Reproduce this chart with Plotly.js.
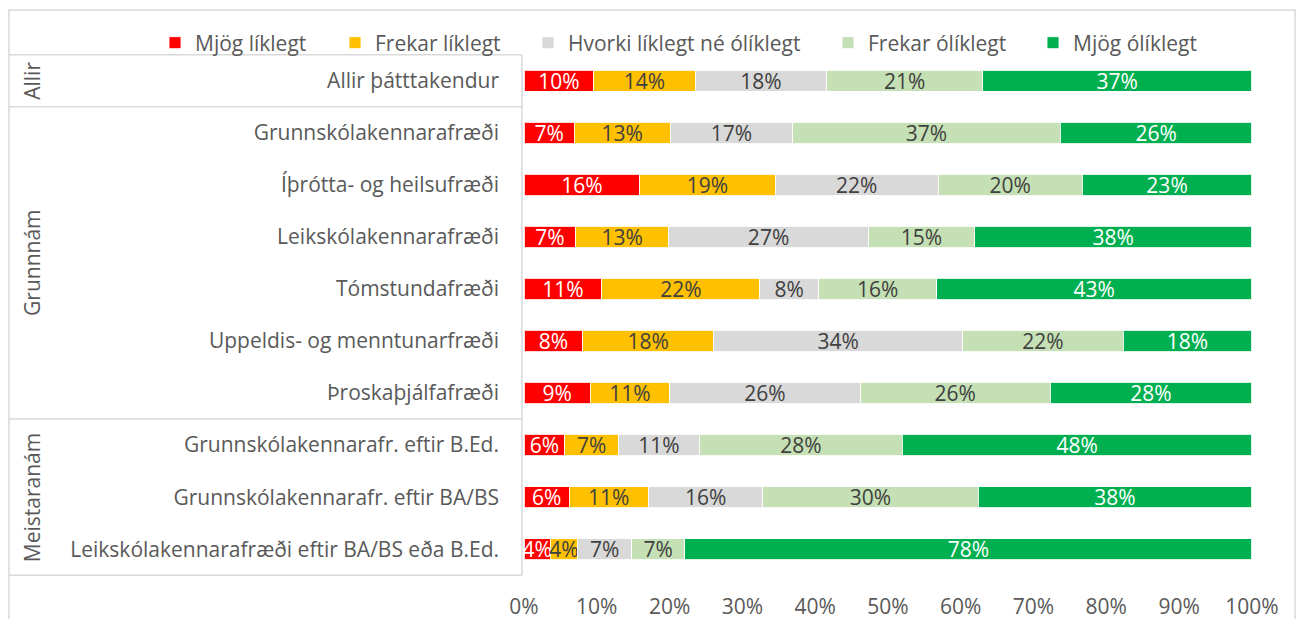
<!DOCTYPE html>
<html>
<head>
<meta charset="utf-8">
<script src="https://cdn.plot.ly/plotly-3.0.1.min.js"></script>
<style>html,body{margin:0;padding:0;background:#fff;}#chart{width:1304px;height:619px;}</style>
</head>
<body>
<div id="chart"></div>
<script>
// ---- data ----
const categories = [
  'Allir þátttakendur',
  'Grunnskólakennarafræði',
  'Íþrótta- og heilsufræði',
  'Leikskólakennarafræði',
  'Tómstundafræði',
  'Uppeldis- og menntunarfræði',
  'Þroskaþjálfafræði',
  'Grunnskólakennarafr. eftir B.Ed.',
  'Grunnskólakennarafr. eftir BA/BS',
  'Leikskólakennarafræði eftir BA/BS eða B.Ed.'
];
const groupNames = ['Allir', 'Grunnnám', 'Meistaranám'];
const groupSizes = [1, 6, 3];

const seriesNames = ['Mjög líklegt', 'Frekar líklegt', 'Hvorki líklegt né ólíklegt', 'Frekar ólíklegt', 'Mjög ólíklegt'];
const mjogLiklegt    = [9.6, 6.9, 15.9, 7.1, 10.7, 8.1, 9.1, 5.6, 6.2, 3.6];
const frekarLiklegt  = [13.9, 13.2, 18.6, 12.8, 21.7, 17.9, 10.9, 7.4, 10.9, 3.8];
const hvorki         = [18.1, 16.8, 22.4, 27.4, 8.1, 34.3, 26.2, 11.1, 15.7, 7.4];
const frekarOliklegt = [21.4, 36.8, 19.8, 14.6, 16.2, 22.0, 26.1, 27.9, 29.6, 7.3];
const mjogOliklegt   = [37.0, 26.3, 23.3, 38.1, 43.3, 17.7, 27.7, 48.0, 37.6, 77.9];
const xTickValues = [0, 10, 20, 30, 40, 50, 60, 70, 80, 90, 100];
const xTickLabels = ['0%', '10%', '20%', '30%', '40%', '50%', '60%', '70%', '80%', '90%', '100%'];

// ---- style ----
const seriesValues = [mjogLiklegt, frekarLiklegt, hvorki, frekarOliklegt, mjogOliklegt];
const colors = ['#FF0000', '#FFC000', '#D9D9D9', '#C5E0B4', '#00B050'];
const textColors = ['#FFFFFF', '#404040', '#404040', '#404040', '#FFFFFF'];
const FONT = '"Open Sans", Lato, sans-serif';
const FS = 21;
const GREY = '#595959';
const LINE = '#D9D9D9';

const W = 1304, H = 619;
const L = 524, R = 52, T = 54, B = 43;
const plotW = W - L - R, plotH = H - T - B;
const px2x = p => (p - L) / plotW;
const py2y = p => (H - B - p) / plotH;

const legendTextStarts = [195, 375, 568, 868, 1073];
const legendIds = ['legend', 'legend2', 'legend3', 'legend4', 'legend5'];

const traces = seriesNames.map((name, i) => ({
  type: 'bar',
  orientation: 'h',
  name: name,
  y: categories,
  x: seriesValues[i],
  marker: { color: colors[i], line: { color: 'rgba(255,255,255,0.85)', width: 1 } },
  texttemplate: '%{x:.0f}%',
  textposition: 'inside',
  insidetextanchor: 'middle',
  textangle: 0,
  constraintext: 'none',
  cliponaxis: false,
  insidetextfont: { family: FONT, size: FS, color: textColors[i] },
  legend: legendIds[i],
  hoverinfo: 'skip'
}));

const layout = {
  width: W, height: H,
  autosize: false,
  margin: { l: L, r: R, t: T, b: B, pad: 0 },
  paper_bgcolor: '#FFFFFF',
  plot_bgcolor: '#FFFFFF',
  barmode: 'stack',
  bargap: 0.59,
  font: { family: FONT, size: FS, color: GREY },
  showlegend: true,
  xaxis: {
    range: [0, 100.02],
    tickmode: 'array',
    tickvals: xTickValues,
    ticktext: xTickLabels,
    showgrid: false,
    zeroline: false,
    showline: false,
    ticks: '',
    ticklabelstandoff: 16,
    tickfont: { family: FONT, size: FS, color: GREY },
    fixedrange: true
  },
  yaxis: {
    type: 'category',
    categoryorder: 'array',
    categoryarray: categories,
    autorange: 'reversed',
    showgrid: false,
    zeroline: false,
    showline: false,
    ticks: '',
    ticklabelstandoff: 24,
    tickfont: { family: FONT, size: FS, color: GREY },
    fixedrange: true
  },
  shapes: [],
  annotations: []
};

// legends
legendIds.forEach((id, i) => {
  layout[id] = {
    x: px2x(legendTextStarts[i] - 40),
    xanchor: 'left',
    y: py2y(43),
    yanchor: 'middle',
    orientation: 'h',
    bgcolor: 'rgba(0,0,0,0)',
    borderwidth: 0,
    itemwidth: 30,
    font: { family: FONT, size: FS, color: GREY }
  };
});

// outer border
layout.shapes.push({
  type: 'rect', xref: 'paper', yref: 'paper',
  x0: px2x(9), x1: px2x(1295), y0: py2y(640), y1: py2y(10),
  line: { color: LINE, width: 1.5 }, fillcolor: 'rgba(0,0,0,0)', layer: 'below'
});
// category box
const n = categories.length;
let boundaries = [-0.5];
let acc = -0.5;
groupSizes.forEach(s => { acc += s; boundaries.push(acc); });
boundaries.forEach(b => {
  layout.shapes.push({
    type: 'line', xref: 'paper', yref: 'y',
    x0: px2x(9), x1: px2x(522), y0: b, y1: b,
    line: { color: LINE, width: 1.5 }
  });
});
layout.shapes.push({
  type: 'line', xref: 'paper', yref: 'y',
  x0: px2x(522), x1: px2x(522), y0: -0.5, y1: n - 0.5,
  line: { color: LINE, width: 1.5 }
});

// group labels
let start = 0;
groupNames.forEach((g, i) => {
  const center = start + (groupSizes[i] - 1) / 2;
  layout.annotations.push({
    xref: 'paper', yref: 'y',
    x: px2x(32), y: center,
    text: g, textangle: -90, showarrow: false,
    xanchor: 'center', yanchor: 'middle',
    font: { family: FONT, size: FS, color: GREY }
  });
  start += groupSizes[i];
});

Plotly.newPlot('chart', traces, layout, { displayModeBar: false, staticPlot: true });
</script>
</body>
</html>
